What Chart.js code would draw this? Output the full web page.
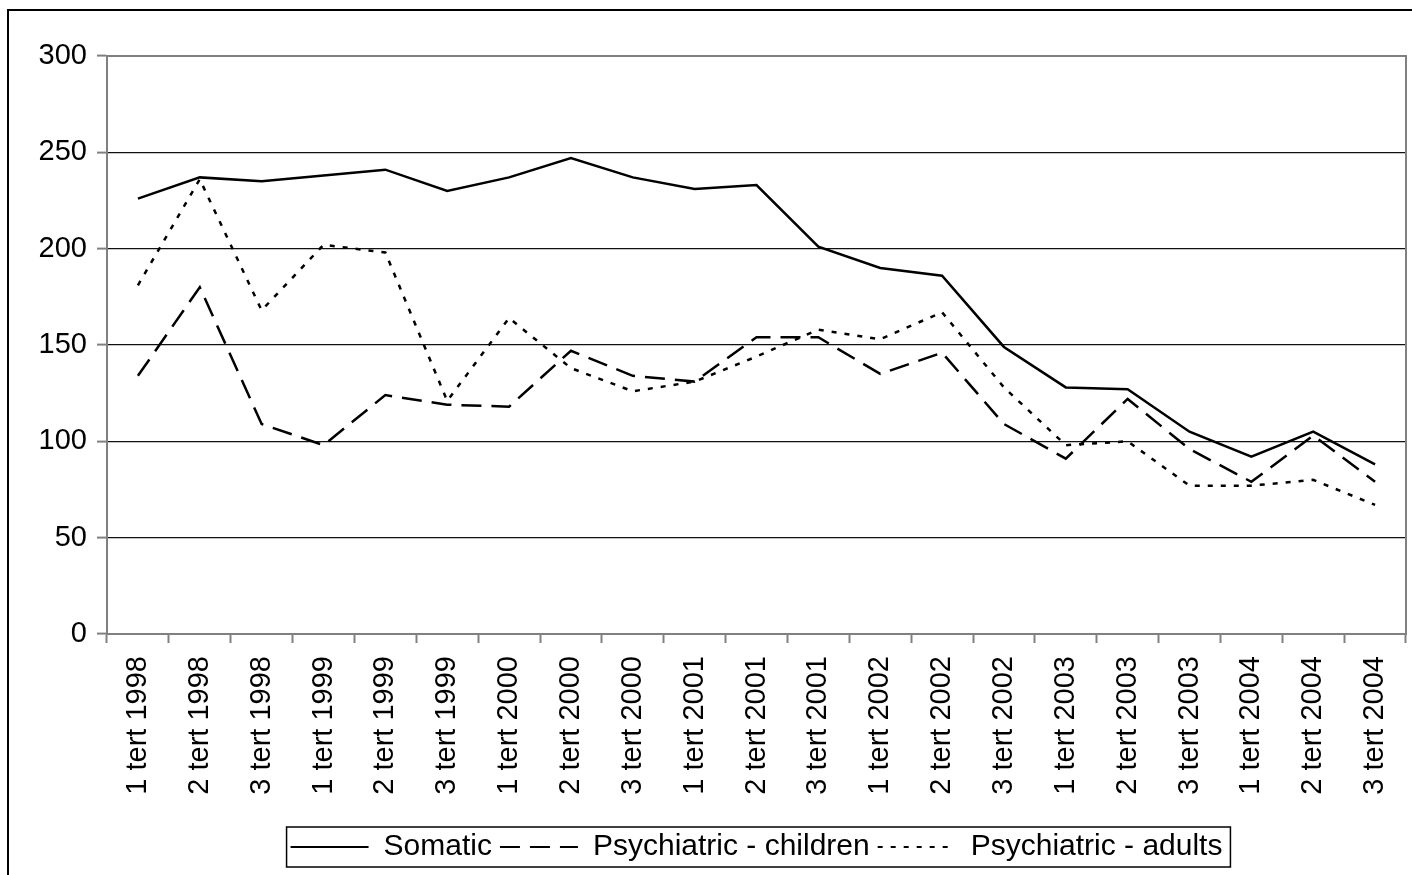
<!DOCTYPE html>
<html>
<head>
<meta charset="utf-8">
<script src="https://cdn.jsdelivr.net/npm/chart.js@4"></script>
<style>
  html, body { margin: 0; padding: 0; background: #fff; }
  #wrap { position: relative; width: 1412px; height: 875px; }
</style>
</head>
<body>
<div id="wrap"><canvas id="chart"></canvas></div>
<script>
  // data
  const periods = [
    "1 tert 1998", "2 tert 1998", "3 tert 1998",
    "1 tert 1999", "2 tert 1999", "3 tert 1999",
    "1 tert 2000", "2 tert 2000", "3 tert 2000",
    "1 tert 2001", "2 tert 2001", "3 tert 2001",
    "1 tert 2002", "2 tert 2002", "3 tert 2002",
    "1 tert 2003", "2 tert 2003", "3 tert 2003",
    "1 tert 2004", "2 tert 2004", "3 tert 2004"
  ];
  const somatic = [226, 237, 235, 238, 241, 230, 237, 247, 237, 231, 233, 201, 190, 186, 149, 128, 127, 105, 92, 105, 88];
  const psychChildren = [134, 180, 109, 98, 124, 119, 118, 147, 134, 131, 154, 154, 135, 146, 109, 91, 122, 96, 79, 103, 79];
  const psychAdults = [181, 236, 168, 202, 198, 121, 164, 138, 126, 131, 144, 158, 153, 167, 128, 98, 100, 77, 77, 80, 67];

  const FONT = "'Liberation Sans', Arial, sans-serif";

  // outer frame, plot border and legend box
  const framePlugin = {
    id: "frame",
    beforeDraw(chart) {
      const ctx = chart.ctx;
      ctx.save();
      ctx.strokeStyle = "#000";
      ctx.lineWidth = 2;
      ctx.beginPath();
      ctx.moveTo(8, 875);
      ctx.lineTo(8, 10);
      ctx.lineTo(1412, 10);
      ctx.stroke();
      ctx.restore();
    },
    afterDatasetsDraw(chart) {
      const { ctx, chartArea } = chart;
      ctx.save();
      ctx.strokeStyle = "#808080";
      ctx.lineWidth = 2;
      ctx.beginPath();
      ctx.moveTo(chartArea.left, chartArea.top);
      ctx.lineTo(chartArea.right, chartArea.top);
      ctx.lineTo(chartArea.right, chartArea.bottom);
      ctx.stroke();
      ctx.restore();
    },
    afterDraw(chart) {
      const boxes = chart.legend.legendHitBoxes;
      if (!boxes || !boxes.length) return;
      let l = Infinity, r = -Infinity, cy = 0;
      boxes.forEach(b => {
        l = Math.min(l, b.left);
        r = Math.max(r, b.left + b.width);
        cy = b.top + b.height / 2;
      });
      const ctx = chart.ctx;
      ctx.save();
      ctx.strokeStyle = "#000";
      ctx.lineWidth = 1.5;
      ctx.strokeRect(l - 4, cy - 20, r - l + 12, 40);
      ctx.restore();
    }
  };

  new Chart(document.getElementById("chart"), {
    type: "line",
    data: {
      labels: periods,
      datasets: [
        {
          label: "Somatic",
          data: somatic,
          borderColor: "#000",
          borderWidth: 2.5,
          pointRadius: 0,
          tension: 0
        },
        {
          label: "Psychiatric - children",
          data: psychChildren,
          borderColor: "#000",
          borderWidth: 2.5,
          borderDash: [20, 10],
          pointRadius: 0,
          tension: 0
        },
        {
          label: "Psychiatric - adults",
          data: psychAdults,
          borderColor: "#000",
          borderWidth: 2.5,
          borderDash: [5, 8],
          pointRadius: 0,
          tension: 0
        }
      ]
    },
    options: {
      responsive: true,
      maintainAspectRatio: false,
      animation: false,
      layout: { padding: { left: 8, top: 56, right: 6, bottom: 3 } },
      plugins: {
        tooltip: { enabled: false },
        legend: {
          position: "bottom",
          fullSize: false,
          labels: {
            usePointStyle: true,
            pointStyle: "line",
            pointStyleWidth: 78,
            padding: 8,
            color: "#000",
            font: { family: FONT, size: 30 },
            generateLabels(chart) {
              const items = Chart.defaults.plugins.legend.labels.generateLabels(chart);
              items.forEach(item => {
                const ds = chart.data.datasets[item.datasetIndex];
                item.lineDash = ds.borderDash || [];
                item.lineWidth = 2;
                item.strokeStyle = "#000";
              });
              return items;
            }
          }
        }
      },
      scales: {
        x: {
          offset: true,
          grid: {
            offset: true,
            drawOnChartArea: false,
            drawTicks: true,
            tickLength: 9,
            tickColor: "#808080",
            tickWidth: 2
          },
          border: { color: "#808080", width: 2 },
          ticks: {
            autoSkip: false,
            maxRotation: 90,
            minRotation: 90,
            padding: 13,
            color: "#000",
            font: { family: FONT, size: 29 }
          },
          afterFit(scale) {
            scale.height = 190;
            scale.paddingLeft = 0;
            scale.paddingRight = 0;
          }
        },
        y: {
          min: 0,
          max: 300,
          ticks: {
            stepSize: 50,
            padding: 10,
            color: "#000",
            font: { family: FONT, size: 29 }
          },
          grid: {
            color: ctx => (ctx.tick && ctx.tick.value === 300 ? "#808080" : "#111"),
            lineWidth: 1.2,
            tickLength: 10,
            tickColor: "#808080",
            tickWidth: 2
          },
          border: { color: "#808080", width: 2 },
          afterFit(scale) { scale.width = 99; }
        }
      }
    },
    plugins: [framePlugin]
  });
</script>
</body>
</html>
